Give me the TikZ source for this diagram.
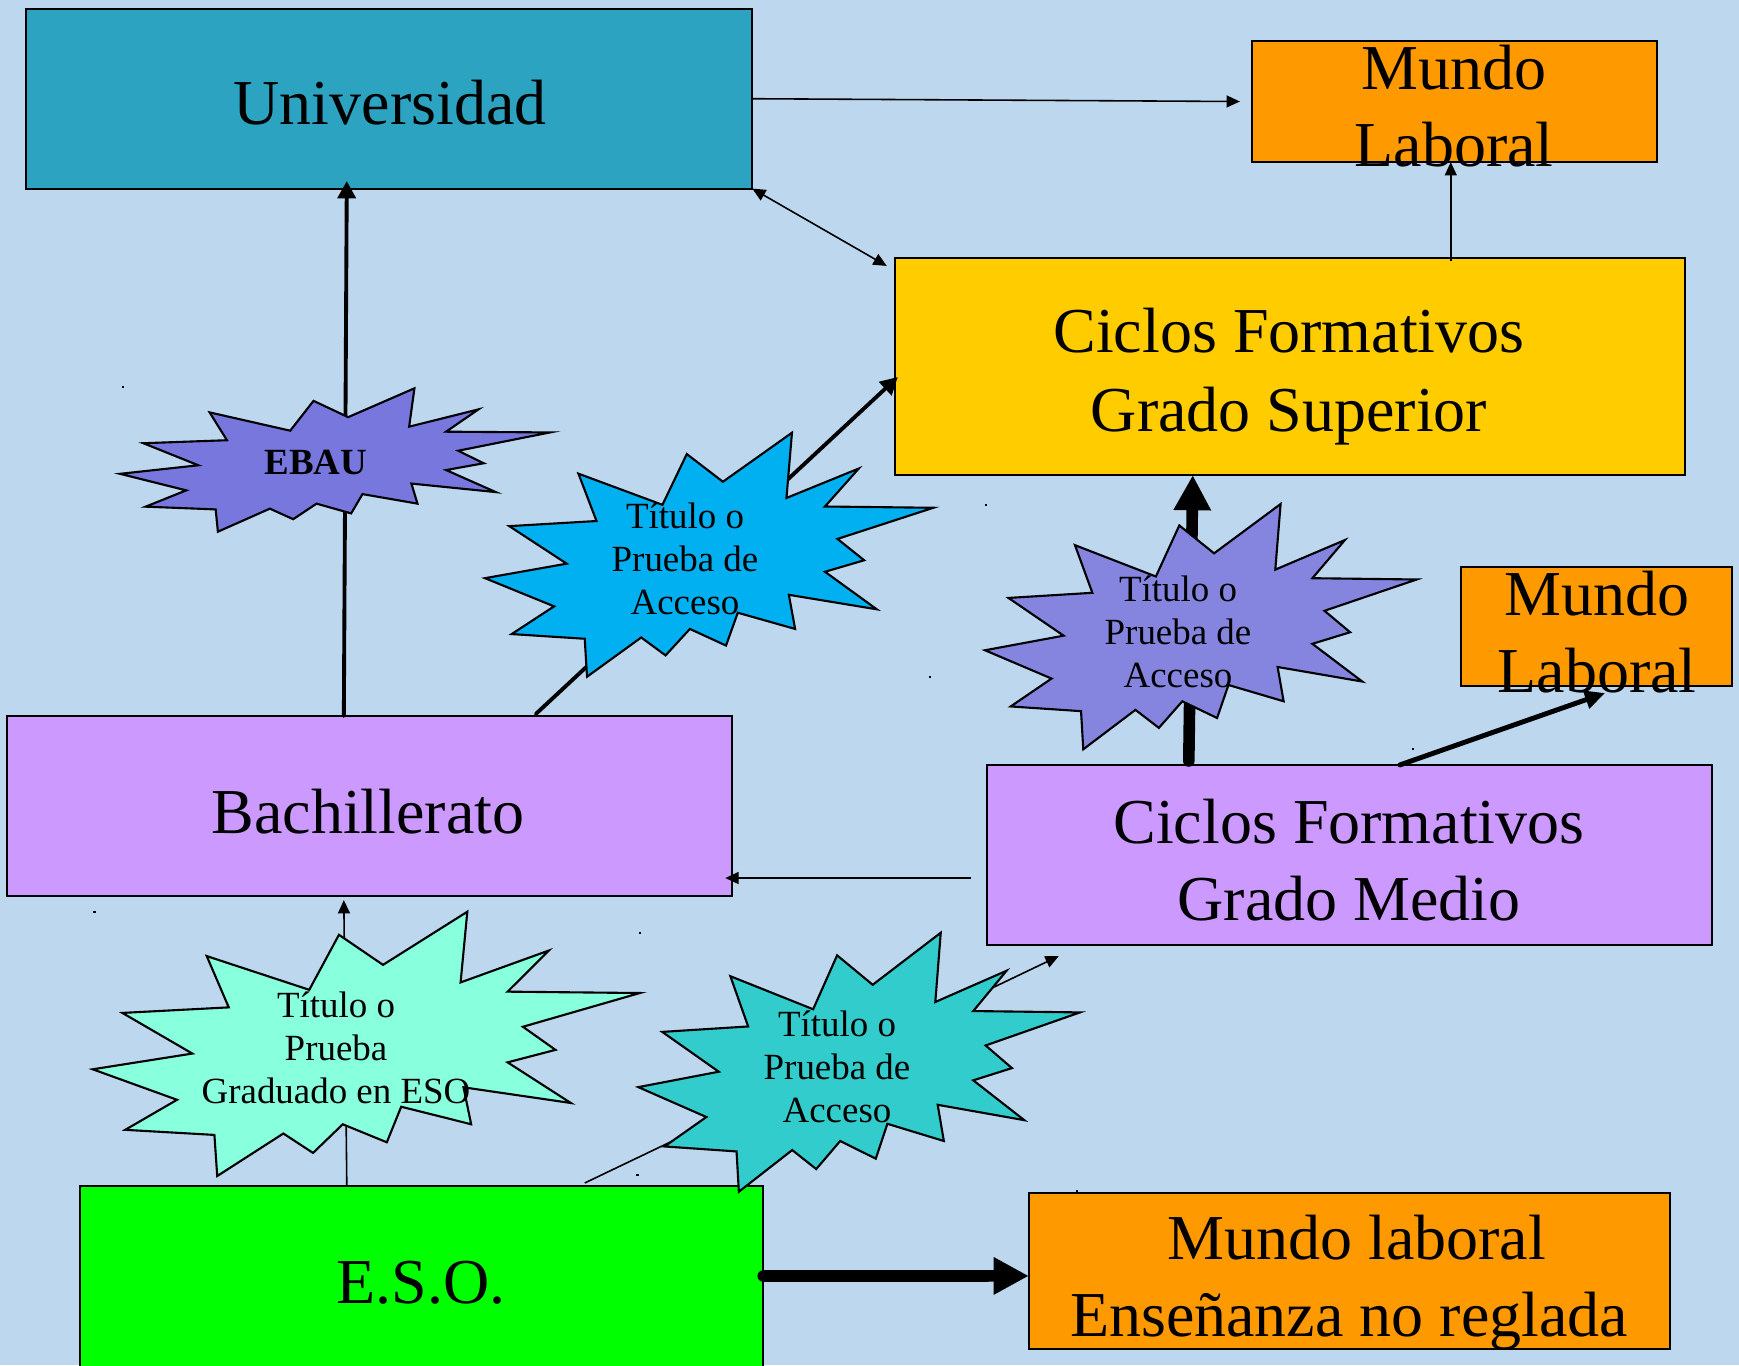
\documentclass[tikz,border=0pt]{standalone}
\usepackage{fontspec}
\setmainfont{Liberation Serif}
\usetikzlibrary{arrows.meta,calc}
\definecolor{bgc}{HTML}{BDD7EE}
\definecolor{unic}{HTML}{2CA3C0}
\definecolor{orangec}{HTML}{FF9900}
\definecolor{yellowc}{HTML}{FFCC00}
\definecolor{lavc}{HTML}{CC99FF}
\definecolor{greenc}{HTML}{00FF00}
\definecolor{ebauc}{HTML}{7777DD}
\definecolor{bluec}{HTML}{00B0F0}
\definecolor{purpc}{HTML}{8585E0}
\definecolor{mintc}{HTML}{88FFDD}
\definecolor{tealc}{HTML}{33CCCC}
\tikzset{
  box/.style={draw=black, line width=0.55pt, inner sep=0pt, outer sep=0pt},
  bigtext/.style={align=center, inner sep=0pt, font=\fontsize{18.2}{21.9}\selectfont},
  startext/.style={align=center, inner sep=0pt, font=\fontsize{10.5}{12.3}\selectfont},
  burstline/.style={draw=black, line width=0.6pt, line join=miter},
  thinarrow/.style={line width=0.45pt, -{Triangle[length=3.8pt,width=3.4pt]}},
  thinboth/.style={line width=0.45pt, {Triangle[length=3.8pt,width=3.4pt]}-{Triangle[length=3.8pt,width=3.4pt]}},
  midarrow/.style={line width=1.1pt, line cap=round, -{Triangle[length=4.9pt,width=5.1pt]}},
  mlarrow/.style={line width=1.4pt, line cap=round, -{Triangle[length=5.7pt,width=5.1pt]}},
  fatarrow/.style={line width=3.3pt, line cap=round, -{Triangle[length=10pt,width=10pt]}},
  dotmark/.style={fill=black, inner sep=0pt, minimum size=0.025cm, draw=none}
}
\newcommand{\burstshape}[5]{%
  \begin{scope}[shift={(#1,#2)}, xscale=#3/216, yscale=#4/216]
    \path[burstline, fill=#5] (114.62,43.42) -- (147.90,0) -- (145.25,57.77) -- (180.07,31.72) -- (163.80,65.32) -- (216.00,66.45) -- (169.85,94.02) -- (182.70,112.90) -- (163.80,123.10) -- (188.77,156.32) -- (146.40,143.50) -- (149.42,173.70) -- (121.80,159.35) -- (116.12,188.42) -- (98.72,173.70) -- (87.00,197.12) -- (75.27,181.25) -- (49.17,216.00) -- (48.05,182.40) -- (12.85,178.25) -- (33.30,153.70) -- (0,128.77) -- (39.35,115.92) -- (11.72,82.70) -- (53.72,78.17) -- (45.02,36.25) -- (85.50,63.82) -- (97.22,18.87) -- cycle;
  \end{scope}}
\begin{document}
\begin{tikzpicture}[x=0.01cm, y=-0.01cm]
\useasboundingbox (0,0) rectangle (1739,1365);
\fill[bgc] (0,0) rectangle (1739,1365);
\begin{scope}
\clip (0,0) rectangle (1739,1365);
% boxes
\node[box, fill=unic, minimum width=7.254cm, minimum height=1.796cm] (uni) at (389.3,98.7) {};
\node[box, fill=orangec, minimum width=4.05cm, minimum height=1.21cm] (mlA) at (1454.5,101.5) {};
\node[box, fill=yellowc, minimum width=7.90cm, minimum height=2.17cm] (cfgs) at (1290,366.5) {};
\node[box, fill=lavc, minimum width=7.253cm, minimum height=1.80cm] (bach) at (369.4,806) {};
\node[box, fill=lavc, minimum width=7.25cm, minimum height=1.80cm] (cfgm) at (1349.5,855) {};
\node[box, fill=orangec, minimum width=2.71cm, minimum height=1.19cm] (mlB) at (1596.5,626.5) {};
\node[box, fill=greenc, minimum width=6.83cm, minimum height=1.99cm] (eso) at (421.5,1285.5) {};
\node[box, fill=orangec, minimum width=6.406cm, minimum height=1.563cm] (mlC) at (1349.3,1270.9) {};
\end{scope}
% tiny dots
\node[dotmark] (d1) at (123,387) {};
\node[dotmark] (d2) at (986,505) {};
\node[dotmark] (d3) at (930,677) {};
\node[dotmark] (d4) at (1413,749) {};
\node[dotmark] (d5) at (94.5,912) {};
\node[dotmark] (d6) at (640,933) {};
\node[dotmark] (d7) at (637.5,1175) {};
\node[dotmark] (d8) at (1077,1191) {};
% connectors
\draw[thinarrow] (uni.east) -- ($(mlA.west)+(-12,0)$);
\draw[thinboth] (uni.south east) -- ($(cfgs.north west)+(-8,8)$);
\coordinate (csup) at ($(cfgs.north west)+(556,3)$);
\draw[thinarrow] (csup) -- (csup |- mlA.south);
\draw[midarrow] ($(bach.north west)+(337.3,0)$) -- ($(uni.south west)+(320.4,-7.5)$);
\draw[midarrow] ($(bach.north west)+(529.3,-2)$) -- ($(cfgs.west)+(3,10.5)$);
\draw[fatarrow] ($(cfgm.north west)+(202,-4)$) -- ($(cfgs.south west)+(298,0)$);
\draw[mlarrow] ($(cfgm.north west)+(413,0)$) -- ($(mlB.south)+(8.5,7)$);
\draw[thinarrow] ($(cfgm.west)+(-16,23)$) -- ($(bach.east)+(-7,72)$);
\draw[thinarrow] ($(eso.north west)+(267,0)$) -- ($(bach.south west)+(337.3,4)$);
\draw[thinarrow] ($(eso.north west)+(505,-3)$) -- ($(cfgm.south west)+(72,11)$);
\draw[fatarrow] ($(eso.east)+(0,-9.5)$) -- ($(mlC.west)+(0,5)$);
% bursts
\burstshape{120}{388.3}{430}{143.4}{ebauc}
\burstshape{485}{432.7}{448.3}{244}{bluec}
\burstshape{985}{504}{431.7}{245.3}{purpc}
\burstshape{92.7}{911.7}{547.1}{264.3}{mintc}
\burstshape{638.3}{932.7}{441.7}{259}{tealc}
% texts
\node[bigtext] (tuni) at (390,103) {Universidad};
\node[bigtext] (tmlA) at (1454,106.5) {Mundo\\Laboral};
\node[bigtext, font=\fontsize{18.2}{22.5}\selectfont] (tcfgs) at (1289,377) {Ciclos Formativos\\Grado Superior};
\node[bigtext] (tbach) at (368,812) {Bachillerato};
\node[bigtext] (tcfgm) at (1349,860) {Ciclos Formativos\\Grado Medio};
\node[bigtext] (tmlB) at (1597,632.5) {Mundo\\Laboral};
\node[bigtext] (teso) at (421,1283) {E.S.O.};
\node[bigtext] (tmlC) at (1349,1283) {\hspace*{0.155cm}Mundo laboral\\Enseñanza no reglada};
\node[startext, font=\fontsize{10.5}{12.3}\selectfont\bfseries] (tebau) at (316,462.5) {EBAU};
\node[startext] (tblue) at (685,559) {Título o\\Prueba de\\Acceso};
\node[startext] (tpurp) at (1178,632) {Título o\\Prueba de\\Acceso};
\node[startext] (tmint) at (336,1048) {Título o\\Prueba\\Graduado en ESO};
\node[startext] (tteal) at (837,1067) {Título o\\Prueba de\\Acceso};
\end{tikzpicture}
\end{document}
